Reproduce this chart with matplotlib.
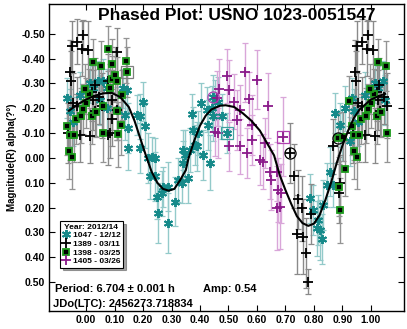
import numpy as np
import matplotlib
matplotlib.use("Agg")
import matplotlib.pyplot as plt

plt.rcParams["font.family"] = ["Liberation Sans", "DejaVu Sans"]
plt.rcParams["font.weight"] = "bold"

# ---- data (phase in 0..1, magnitude, error) ----
teal_ph = [0.014, 0.026, 0.043, 0.050, 0.061, 0.072, 0.072, 0.107, 0.130, 0.137,
           0.143, 0.148, 0.148, 0.178, 0.190, 0.190, 0.200, 0.207, 0.219, 0.230,
           0.225, 0.242, 0.242, 0.248, 0.254, 0.266, 0.271, 0.289, 0.289, 0.312,
           0.324, 0.336, 0.341, 0.341, 0.347, 0.359, 0.365, 0.373, 0.376, 0.382,
           0.390, 0.394, 0.404, 0.410, 0.423, 0.429, 0.435, 0.441, 0.447, 0.447,
           0.453, 0.464, 0.476, 0.494, 0.786, 0.798, 0.809, 0.815, 0.822, 0.829,
           0.833, 0.844, 0.856, 0.868, 0.874, 0.891, 0.897, 0.909, 0.926, 0.932,
           0.942, 0.955, 0.979]
teal_mag = [-0.300, -0.280, -0.310, -0.234, -0.308, -0.280, -0.200, -0.194, -0.280, -0.173,
            -0.274, -0.120, -0.040, -0.173, -0.167, -0.040, -0.227, -0.130, 0.000, -0.005,
            0.075, 0.000, 0.075, 0.156, 0.223, 0.143, 0.116, 0.116, 0.263, 0.176,
            0.089, 0.102, 0.021, -0.032, -0.012, 0.082, -0.032, -0.176, -0.113, -0.052,
            -0.046, -0.100, -0.220, -0.012, -0.194, -0.133, 0.019, -0.200, -0.167, -0.245,
            -0.234, -0.227, -0.167, -0.100, 0.163, 0.210, 0.284, 0.250, 0.290, 0.328,
            0.190, 0.109, 0.055, 0.109, -0.180, -0.133, -0.086, -0.200, -0.066, -0.240,
            -0.187, -0.146, -0.254]
teal_err = [0.08, 0.09, 0.08, 0.10, 0.09, 0.08, 0.10, 0.09, 0.08, 0.10,
            0.09, 0.10, 0.09, 0.08, 0.09, 0.10, 0.08, 0.09, 0.10, 0.08,
            0.09, 0.08, 0.10, 0.09, 0.12, 0.09, 0.08, 0.10, 0.12, 0.10,
            0.09, 0.08, 0.09, 0.08, 0.10, 0.10, 0.09, 0.08, 0.09, 0.08,
            0.10, 0.09, 0.08, 0.10, 0.09, 0.10, 0.11, 0.09, 0.10, 0.09,
            0.08, 0.10, 0.09, 0.08, 0.10, 0.10, 0.11, 0.10, 0.12, 0.10,
            0.10, 0.09, 0.10, 0.09, 0.08, 0.09, 0.10, 0.09, 0.10, 0.08,
            0.09, 0.10, 0.09]

black_ph = [0.008, 0.014, 0.020, 0.026, 0.030, 0.032, 0.047, 0.055, 0.077, 0.078,
            0.084, 0.090, 0.090, 0.107, 0.107, 0.716, 0.730, 0.739, 0.745, 0.757,
            0.762, 0.772, 0.780, 0.788, 0.868, 0.889, 0.890, 0.937, 0.944, 0.948,
            0.950, 0.955, 0.967, 0.967, 0.979, 0.985, 0.991]
black_mag = [-0.433, -0.090, -0.267, -0.234, -0.294, -0.187, -0.247, -0.210, -0.093, -0.308,
             -0.100, -0.234, -0.157, -0.425, -0.194, -0.019, 0.073, 0.308, 0.167, 0.203,
             0.317, 0.384, 0.499, 0.227, -0.046, 0.143, 0.100, -0.100, -0.344, -0.310,
             -0.450, -0.220, -0.468, -0.207, -0.094, -0.440, -0.496]
black_err = [0.12, 0.11, 0.12, 0.12, 0.11, 0.10, 0.11, 0.13, 0.12, 0.11,
             0.10, 0.12, 0.11, 0.10, 0.12, 0.12, 0.13, 0.16, 0.12, 0.13,
             0.15, 0.14, 0.05, 0.12, 0.11, 0.12, 0.11, 0.12, 0.13, 0.12,
             0.10, 0.12, 0.09, 0.12, 0.11, 0.11, 0.06]

green_ph = [0.000, 0.012, 0.020, 0.026, 0.035, 0.053, 0.058, 0.061, 0.076, 0.084,
            0.090, 0.090, 0.102, 0.110, 0.110, 0.113, 0.123, 0.127, 0.140, 0.145,
            0.885, 0.889, 0.891, 0.903, 0.909, 0.923, 0.932, 0.940, 0.942, 0.950,
            0.959, 0.965, 0.981, 0.988, 0.996]
green_mag = [-0.220, -0.257, -0.167, -0.388, -0.184, -0.371, -0.102, -0.207, -0.440, -0.280,
             -0.379, -0.319, -0.335, -0.308, -0.190, -0.095, -0.133, -0.254, -0.392, -0.346,
             -0.082, 0.116, 0.212, -0.086, 0.044, -0.230, -0.130, -0.026, -0.093, -0.005,
             -0.093, -0.157, -0.170, -0.198, -0.277]
green_err = [0.10, 0.10, 0.11, 0.09, 0.10, 0.10, 0.12, 0.10, 0.09, 0.10,
             0.10, 0.09, 0.11, 0.10, 0.12, 0.13, 0.12, 0.10, 0.09, 0.10,
             0.10, 0.12, 0.13, 0.10, 0.11, 0.10, 0.12, 0.11, 0.10, 0.13,
             0.11, 0.10, 0.11, 0.10, 0.10]

mag_ph = [0.453, 0.459, 0.464, 0.468, 0.496, 0.503, 0.503, 0.519, 0.529, 0.540,
          0.540, 0.558, 0.566, 0.573, 0.581, 0.581, 0.599, 0.610, 0.622, 0.628,
          0.640, 0.646, 0.650, 0.669, 0.669, 0.675, 0.680, 0.683, 0.692]
mag_mag = [-0.106, -0.240, -0.100, -0.277, -0.330, -0.274, -0.046, -0.227, -0.153, -0.194,
           -0.046, -0.344, -0.019, -0.237, -0.133, -0.073, -0.315, 0.008, 0.015, -0.059,
           -0.210, 0.055, 0.089, 0.055, 0.203, 0.129, 0.196, 0.143, -0.086]
mag_err = [0.10, 0.11, 0.10, 0.12, 0.11, 0.12, 0.10, 0.11, 0.12, 0.10,
           0.11, 0.12, 0.10, 0.11, 0.12, 0.10, 0.12, 0.10, 0.11, 0.10,
           0.13, 0.11, 0.12, 0.12, 0.17, 0.13, 0.17, 0.12, 0.16]

# flagged observations (index into a series) drawn with a ring or box
circled = [("teal", 49, "#b040b0"), ("black", 15, "black"), ("green", 20, "black")]
boxed = [("teal", 53, "#40a0a0"), ("mag", 28, "#b040b0"), ("green", 19, "gray")]

# fitted curve
fit_ph = [-0.06, -0.03, 0.00, 0.03, 0.06, 0.09, 0.12, 0.15, 0.17, 0.19,
          0.21, 0.23, 0.25, 0.27, 0.29, 0.31, 0.33, 0.35, 0.36, 0.38,
          0.40, 0.42, 0.44, 0.47, 0.49, 0.52, 0.55, 0.58, 0.61, 0.64,
          0.66, 0.68, 0.70, 0.72, 0.74, 0.76, 0.78, 0.80, 0.82, 0.84,
          0.86, 0.88, 0.90, 0.92, 0.94, 0.96, 0.98, 1.00, 1.03, 1.05]
fit_mag = [-0.19, -0.215, -0.235, -0.25, -0.26, -0.262, -0.245, -0.205, -0.15, -0.08,
           -0.01, 0.055, 0.10, 0.125, 0.132, 0.125, 0.09, 0.05, 0.0, -0.07,
           -0.13, -0.17, -0.195, -0.21, -0.212, -0.205, -0.18, -0.15, -0.11, -0.05,
           -0.01, 0.07, 0.13, 0.185, 0.235, 0.263, 0.274, 0.265, 0.23, 0.17,
           0.10, 0.02, -0.05, -0.11, -0.16, -0.195, -0.215, -0.235, -0.25, -0.258]

series = {
    "teal": dict(ph=teal_ph, m=teal_mag, e=teal_err, label="1047 - 12/12",
                 ecolor="#93caca",
                 kw=dict(marker=(6, 2, 0), ms=6.5, mew=1.4, mec="#168a8a", mfc="#168a8a")),
    "black": dict(ph=black_ph, m=black_mag, e=black_err, label="1389 - 03/11",
                  ecolor="#8a8a8a",
                  kw=dict(marker="+", ms=7, mew=1.3, mec="black")),
    "green": dict(ph=green_ph, m=green_mag, e=green_err, label="1398 - 03/25",
                  ecolor="#949494",
                  kw=dict(marker="s", ms=4.6, mew=1.3, mec="#1c9a1c", mfc="black")),
    "mag": dict(ph=mag_ph, m=mag_mag, e=mag_err, label="1405 - 03/26",
                ecolor="#d9a6d9",
                kw=dict(marker="+", ms=6.5, mew=1.3, mec="#8a1a8a")),
}


def wrap(ph):
    # repeat points near the phase ends on the other side, as in a phased plot
    out = []
    for p in ph:
        out.append([p])
        if p >= 0.93:
            out[-1].append(p - 1)
        if p < 0.06:
            out[-1].append(p + 1)
    return out


fig = plt.figure(figsize=(4.07, 3.29), dpi=100)
ax = fig.add_axes([49 / 407, 1 - 311 / 329, 355 / 407, 307 / 329])

handles = []
for key in ["teal", "black", "green", "mag"]:
    s = series[key]
    xs, ys, es = [], [], []
    for reps, m, e in zip(wrap(s["ph"]), s["m"], s["e"]):
        for p in reps:
            xs.append(p)
            ys.append(m)
            es.append(e)
    ax.errorbar(xs, ys, yerr=es, fmt="none", ecolor=s["ecolor"], elinewidth=1.0,
                capsize=2.2, capthick=0.9, zorder=2)
    h, = ax.plot(xs, ys, ls="none", zorder=3, label=s["label"], **s["kw"])
    handles.append(h)

for key, i, c in circled:
    s = series[key]
    ax.plot(s["ph"][i], s["m"][i], "o", ms=8, mfc="none", mec=c, mew=0.9, zorder=4)
for key, i, c in boxed:
    s = series[key]
    ax.plot(s["ph"][i], s["m"][i], "s", ms=8, mfc="none", mec=c, mew=0.9, zorder=4)

ax.plot(fit_ph, fit_mag, color="black", lw=1.5, zorder=5)

ax.set_xlim(-0.13, 1.116)
ax.set_ylim(0.617, -0.62)
xt = np.arange(0, 1.001, 0.1)
yt = np.arange(-0.5, 0.501, 0.1)
ax.set_xticks(xt)
ax.set_xticklabels([f"{v:.2f}" for v in xt])
ax.set_yticks(yt)
ax.set_yticklabels([f"{v:.2f}" if abs(v) > 1e-9 else "0.00" for v in yt])
ax.tick_params(direction="in", length=4, width=0.8, top=True, right=True,
               labelsize=7.5, pad=3)
for lbl in ax.get_xticklabels() + ax.get_yticklabels():
    lbl.set_fontweight("bold")
for sp in ax.spines.values():
    sp.set_linewidth(1.0)

ax.set_ylabel("Magnitude(R) alpha(?°)", fontsize=7, fontweight="bold", labelpad=3)

fig.text(237 / 407, 1 - 15 / 329, "Phased Plot: USNO 1023-0051547", ha="center",
         va="center", fontsize=12.5, fontweight="bold")

ax.text(0.018, 0.072, "Period: 6.704 ± 0.001 h", transform=ax.transAxes,
        fontsize=8, fontweight="bold", va="center")
ax.text((203 - 49) / 355, 0.072, "Amp: 0.54", transform=ax.transAxes,
        fontsize=8, fontweight="bold", va="center")
ax.text(0.012, 0.023, "JDo(LTC): 2456273.718834", transform=ax.transAxes,
        fontsize=8, fontweight="bold", va="center")

leg = ax.legend(handles=handles, title="Year: 2012/14", loc="upper left",
                bbox_to_anchor=(0.031, 0.293), fontsize=6, title_fontsize=6,
                frameon=True, fancybox=False, shadow=True, borderpad=0.3,
                labelspacing=0.1, handlelength=0.8, handletextpad=0.4,
                borderaxespad=0)
leg.get_frame().set_edgecolor("black")
leg.get_frame().set_linewidth(0.8)
leg.get_title().set_fontweight("bold")
for t in leg.get_texts():
    t.set_fontweight("bold")

fig.savefig("out.png", dpi=100)
